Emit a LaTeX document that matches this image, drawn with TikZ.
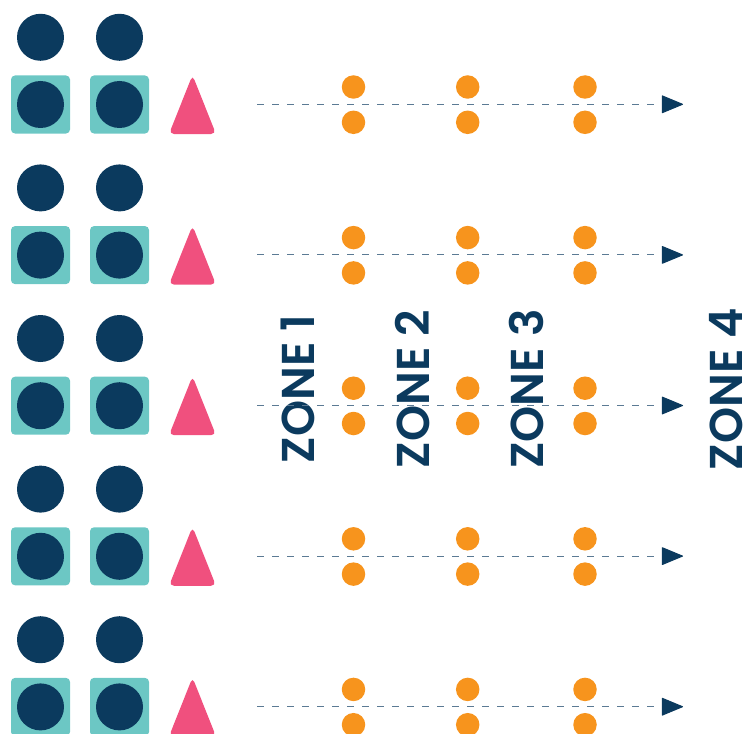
\documentclass[tikz,border=0pt]{standalone}
\usepackage{fontspec}
\newfontfamily\zonefont{Poppins SemiBold}
\usetikzlibrary{arrows.meta}

\definecolor{navy}{HTML}{0B3A5E}
\definecolor{tealbox}{HTML}{6CC7C4}
\definecolor{pinktri}{HTML}{F0507E}
\definecolor{orangedot}{HTML}{F7941D}
\definecolor{dashgray}{HTML}{5B7A94}

\tikzset{
  head/.style={circle, fill=navy, minimum size=47pt, inner sep=0pt},
  box/.style={rectangle, rounded corners=4pt, fill=tealbox, minimum width=59pt, minimum height=58pt, inner sep=0pt},
  dot/.style={circle, fill=orangedot, minimum size=23.5pt, inner sep=0pt},
  track/.style={dashgray, line width=1pt, dash pattern=on 7pt off 8pt, -{Triangle[length=22pt,width=18pt,round,color=navy]}},
  zone/.style={navy, rotate=90, inner sep=0pt, font=\zonefont\fontsize{46}{46}\selectfont}
}

\begin{document}
\begin{tikzpicture}[x=1pt, y=-1pt]
            % Marco de la imagen
            \useasboundingbox (0,0) rectangle (749,733);
            \clip (0,0) rectangle (749,733);

            % Rotulos de las zonas
            \node[zone] (z1) at (298,389) {ZONE 1};
            \node[zone] (z2) at (412.5,389) {ZONE 2};
            \node[zone] (z3) at (526.5,389) {ZONE 3};
            \node[zone] (z4) at (726,389) {ZONE 4};

            % Filas
            \foreach \r in {0,...,4} {
              \pgfmathsetmacro{\y}{\r*150.6}
              % figuras de la izquierda
              \node[head] (ha\r) at (40.5,37.3+\y) {};
              \node[head] (hb\r) at (119.5,37.3+\y) {};
              \node[box] (ba\r) at (40.5,104.5+\y) {};
              \node[box] (bb\r) at (119.5,104.5+\y) {};
              \node[head] at (ba\r) {};
              \node[head] at (bb\r) {};
              \fill[pinktri, rounded corners=5pt] (169,134+\y) -- (192.5,75+\y) -- (216,134+\y) -- cycle;

              % flecha punteada
              \coordinate (s\r) at (257,104.3+\y);
              \coordinate (e\r) at (683,104.3+\y);
              \draw[track] (s\r) -- (e\r);

              % puntos naranjas
              \foreach \x [count=\k] in {353.5,467.7,585} {
                \node[dot] (u\r-\k) at (\x,87+\y) {};
                \node[dot] (d\r-\k) at (\x,122.3+\y) {};
              }
            }
        \end{tikzpicture}
\end{document}
